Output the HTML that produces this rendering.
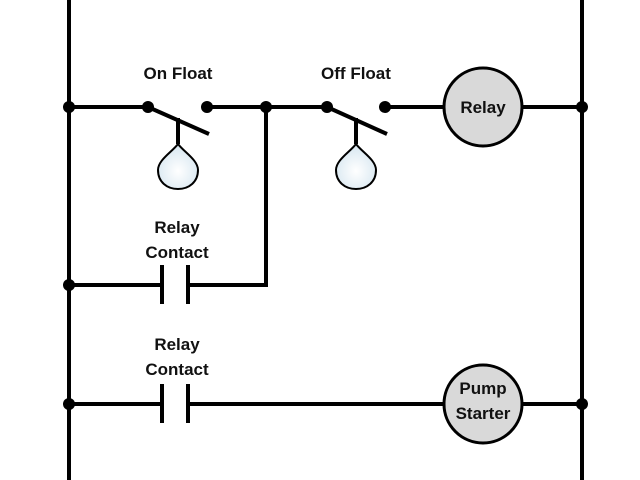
<!DOCTYPE html>
<html><head><style>html,body{margin:0;padding:0;background:#fff}svg{display:block}</style></head>
<body>
<svg width="640" height="480" viewBox="0 0 640 480" xmlns="http://www.w3.org/2000/svg">
<defs>
<radialGradient id="g" cx="50%" cy="60%" r="60%"><stop offset="0" stop-color="#ffffff"/><stop offset="1" stop-color="#d6e6f0"/></radialGradient>
</defs>
<g stroke="#000" stroke-width="4" fill="none">
<line x1="69" y1="0" x2="69" y2="480"/>
<line x1="582" y1="0" x2="582" y2="480"/>
<line x1="69" y1="107" x2="148" y2="107"/>
<line x1="148" y1="107" x2="209" y2="134"/>
<line x1="207" y1="107" x2="327" y2="107"/>
<line x1="327" y1="107" x2="387" y2="134"/>
<line x1="385" y1="107" x2="444" y2="107"/>
<line x1="523" y1="107" x2="582" y2="107"/>
<polyline points="266,107 266,285 188,285"/>
<line x1="69" y1="285" x2="162" y2="285"/>
<line x1="162" y1="265" x2="162" y2="304"/>
<line x1="188" y1="265" x2="188" y2="304"/>
<line x1="69" y1="404" x2="162" y2="404"/>
<line x1="162" y1="384" x2="162" y2="423"/>
<line x1="188" y1="384" x2="188" y2="423"/>
<line x1="188" y1="404" x2="444" y2="404"/>
<line x1="523" y1="404" x2="582" y2="404"/>
<line x1="178" y1="118" x2="178" y2="144"/>
<line x1="356" y1="118" x2="356" y2="144"/>
</g>
<g stroke="#000" stroke-width="2" fill="url(#g)">
<path d="M178,144 C184,152 198,160 198,170 C198,182 189,189 178,189 C167,189 158,182 158,170 C158,160 172,152 178,144 Z"/>
<path d="M356,144 C362,152 376,160 376,170 C376,182 367,189 356,189 C345,189 336,182 336,170 C336,160 350,152 356,144 Z"/>
</g>
<g stroke="#000" stroke-width="3" fill="#d9d9d9">
<circle cx="483" cy="107" r="39"/>
<circle cx="483" cy="404" r="39"/>
</g>
<g fill="#000">
<circle cx="69" cy="107" r="6"/><circle cx="582" cy="107" r="6"/>
<circle cx="69" cy="285" r="6"/><circle cx="69" cy="404" r="6"/><circle cx="582" cy="404" r="6"/>
<circle cx="148" cy="107" r="6"/><circle cx="207" cy="107" r="6"/><circle cx="266" cy="107" r="6"/>
<circle cx="327" cy="107" r="6"/><circle cx="385" cy="107" r="6"/>
</g>
<g font-family="Liberation Sans, sans-serif" font-weight="bold" font-size="17" fill="#111" text-anchor="middle">
<text x="178" y="79">On Float</text>
<text x="356" y="79">Off Float</text>
<text x="177" y="233">Relay</text>
<text x="177" y="258">Contact</text>
<text x="177" y="350">Relay</text>
<text x="177" y="375">Contact</text>
<text x="483" y="113">Relay</text>
<text x="483" y="394">Pump</text>
<text x="483" y="419">Starter</text>
</g>
</svg>
</body></html>
